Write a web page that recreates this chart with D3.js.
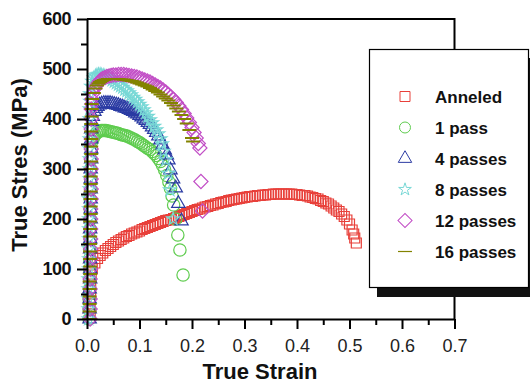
<!DOCTYPE html>
<html><head><meta charset="utf-8">
<script src="https://cdn.jsdelivr.net/npm/d3@7"></script>
<style>body{margin:0;background:#fff}svg{display:block}</style>
</head><body>
<svg id="c" width="530" height="384"></svg>
<script>
// ---- data: [true strain, true stress (MPa)] ----
const seriesNames = ["Anneled", "1 pass", "4 passes", "8 passes", "12 passes", "16 passes"];
const xTicks = [0.0, 0.1, 0.2, 0.3, 0.4, 0.5, 0.6, 0.7];
const yTicks = [0, 100, 200, 300, 400, 500, 600];

const annealed = [[0.006,10],[0.006,30],[0.007,50],[0.007,70],[0.008,88],
[0.010,100],[0.015,112],[0.020,121],[0.025,127],[0.030,132],[0.035,137],[0.040,141],[0.045,145],[0.050,149],[0.055,153],
[0.060,156],[0.065,159],[0.070,162],[0.075,165],[0.080,167],[0.085,170],[0.090,172],[0.095,174],[0.100,176],[0.105,179],
[0.110,181],[0.115,183],[0.120,185],[0.125,187],[0.130,189],[0.135,191],[0.140,193],[0.145,195],[0.150,197],[0.155,198],
[0.160,199],[0.165,201],[0.170,203],[0.175,205],[0.180,207],[0.185,209],[0.190,211],[0.195,213],[0.200,215],[0.205,217],
[0.210,219],[0.215,220],[0.220,222],[0.225,224],[0.230,225],[0.235,227],[0.240,228],[0.245,230],[0.250,231],[0.255,233],
[0.260,234],[0.265,235],[0.270,237],[0.275,238],[0.280,239],[0.285,240],[0.290,241],[0.295,242],[0.300,243],[0.305,244],
[0.310,245],[0.315,245],[0.320,246],[0.325,247],[0.330,247],[0.335,248],[0.340,248],[0.345,249],[0.350,249],[0.355,250],
[0.360,250],[0.365,250],[0.370,250],[0.375,250],[0.380,250],[0.385,250],[0.390,250],[0.395,249],[0.400,249],[0.405,248],
[0.410,247],[0.415,247],[0.420,246],[0.425,244],[0.430,243],[0.435,241],[0.440,240],[0.445,237],[0.450,235],[0.455,232],
[0.460,230],[0.465,226],[0.470,222],[0.475,218],[0.480,215],[0.485,210],[0.490,205],[0.495,198],[0.500,190],[0.505,178],
[0.508,170],[0.510,162],[0.513,152]];

const pass1 = [[0.004,0],[0.004,20],[0.004,40],[0.005,60],[0.005,80],[0.005,100],[0.005,120],[0.005,140],[0.006,160],[0.006,180],
[0.006,200],[0.006,220],[0.006,240],[0.007,260],[0.007,280],[0.007,300],[0.007,320],[0.008,340],[0.009,355],
[0.012,362],[0.015,368],[0.018,372],[0.021,374],[0.024,376],[0.027,377],[0.030,377],[0.033,377],[0.036,377],[0.040,376],
[0.044,375],[0.048,374],[0.052,373],[0.056,372],[0.060,371],[0.064,369],[0.068,368],[0.072,367],[0.076,366],[0.080,364],
[0.084,362],[0.088,360],[0.092,358],[0.096,355],[0.100,353],[0.104,350],[0.108,347],[0.112,344],[0.116,341],[0.120,339],
[0.124,335],[0.128,331],[0.132,327],[0.136,321],[0.140,315],[0.144,307],[0.148,298],[0.152,287],[0.156,274],[0.159,261],
[0.162,246],[0.165,228],[0.169,200],[0.173,168],[0.177,138],[0.183,88]];

const pass4 = [[0.005,0],[0.005,20],[0.005,40],[0.005,60],[0.006,80],[0.006,100],[0.006,120],[0.006,140],[0.006,160],[0.006,180],
[0.007,200],[0.007,220],[0.007,240],[0.007,260],[0.007,280],[0.007,300],[0.008,320],[0.008,340],[0.008,360],[0.008,380],[0.009,395],
[0.011,405],[0.014,415],[0.017,421],[0.020,425],[0.024,428],[0.028,430],[0.032,431],[0.036,431],[0.040,431],[0.044,431],
[0.048,430],[0.052,429],[0.056,428],[0.060,427],[0.064,425],[0.068,424],[0.072,422],[0.076,421],[0.080,419],[0.084,417],
[0.088,415],[0.092,412],[0.096,410],[0.100,407],[0.104,404],[0.108,400],[0.112,397],[0.116,393],[0.120,389],[0.124,384],
[0.128,379],[0.132,373],[0.136,366],[0.140,358],[0.144,348],[0.148,338],[0.152,328],[0.155,318],[0.159,298],[0.164,280],
[0.169,262],[0.174,231],[0.180,196]];

const pass8 = [[0.003,0],[0.003,20],[0.003,40],[0.003,60],[0.003,80],[0.004,100],[0.004,120],[0.004,140],[0.004,160],[0.004,180],
[0.004,200],[0.004,220],[0.004,240],[0.005,260],[0.005,280],[0.005,300],[0.005,320],[0.005,340],[0.005,360],[0.005,380],
[0.005,400],[0.005,420],[0.006,435],
[0.006,450],[0.008,465],[0.010,475],[0.013,482],[0.016,486],[0.019,488],[0.022,489],[0.025,489],[0.028,488],[0.031,487],
[0.034,486],[0.037,484],[0.040,483],[0.044,481],[0.048,478],[0.052,475],[0.056,472],[0.060,469],[0.064,466],[0.068,463],
[0.072,459],[0.076,456],[0.080,452],[0.084,448],[0.088,443],[0.092,439],[0.096,434],[0.100,429],[0.104,424],[0.108,418],
[0.112,412],[0.116,405],[0.120,398],[0.124,392],[0.128,385],[0.132,378],[0.136,370],[0.140,360],[0.143,350],[0.146,335],
[0.150,318],[0.155,291],[0.158,258],[0.164,200]];

const pass12 = [[0.006,0],[0.006,20],[0.006,40],[0.006,60],[0.006,80],[0.007,100],[0.007,120],[0.007,140],[0.007,160],[0.007,180],
[0.007,200],[0.007,220],[0.008,240],[0.008,260],[0.008,280],[0.008,300],[0.008,320],[0.008,340],[0.008,360],[0.008,380],
[0.008,400],[0.008,420],[0.009,430],
[0.009,440],[0.012,452],[0.015,461],[0.018,467],[0.021,472],[0.024,476],[0.027,479],[0.030,481],[0.034,483],[0.038,485],
[0.042,486],[0.046,487],[0.050,488],[0.055,488],[0.060,489],[0.065,489],[0.070,489],[0.075,488],[0.080,487],[0.085,486],
[0.090,485],[0.095,484],[0.100,482],[0.105,480],[0.110,478],[0.115,476],[0.120,474],[0.125,471],[0.130,468],[0.135,465],
[0.140,462],[0.145,458],[0.150,454],[0.155,449],[0.160,444],[0.165,439],[0.170,433],[0.175,426],[0.180,419],[0.185,411],
[0.190,402],[0.195,393],[0.200,383],[0.204,373],[0.208,362],[0.212,351],[0.215,342],[0.217,275],[0.220,216]];

const pass16 = [[0.005,0],[0.005,15],[0.005,30],[0.005,45],[0.005,60],[0.005,75],[0.006,90],[0.006,105],[0.006,120],[0.006,135],
[0.006,150],[0.006,165],[0.006,180],[0.006,195],[0.007,210],[0.007,225],[0.007,240],[0.007,255],[0.007,270],[0.007,285],
[0.007,300],[0.008,315],[0.008,330],[0.008,345],[0.008,360],[0.008,375],[0.008,390],[0.009,405],[0.009,420],[0.009,430],
[0.010,440],[0.013,452],[0.016,461],[0.019,467],[0.022,471],[0.025,474],[0.028,476],[0.032,478],[0.036,479],[0.040,480],
[0.045,480],[0.050,480],[0.055,480],[0.060,480],[0.065,479],[0.070,479],[0.075,478],[0.080,477],[0.085,476],[0.090,475],
[0.095,473],[0.100,471],[0.105,469],[0.110,467],[0.115,465],[0.120,462],[0.125,459],[0.130,456],[0.135,453],[0.140,449],
[0.145,445],[0.150,441],[0.155,437],[0.160,432],[0.165,427],[0.170,421],[0.175,415],[0.180,408],[0.185,400],[0.190,391],
[0.195,378],[0.200,362],[0.202,355]];

const seriesData = [annealed, pass1, pass4, pass8, pass12, pass16];
const colors = ["#e8403a", "#5fcc4f", "#2b3ba3", "#78d8d6", "#c24ec6", "#838300"];
const shapes = ["square", "circle", "triangle", "star", "diamond", "dash"];

// ---- layout ----
const svg = d3.select("#c");
const L = 87, R = 454.5, T = 19, B = 319;
const x = d3.scaleLinear().domain([0, 0.7]).range([L, R]);
const y = d3.scaleLinear().domain([0, 600]).range([B, T]);

function symbolPath(shape) {
  if (shape === "square") return d3.symbol(d3.symbolSquare, 100)();
  if (shape === "circle") return d3.symbol(d3.symbolCircle, 120)();
  if (shape === "triangle") return d3.symbol(d3.symbolTriangle, 78)();
  if (shape === "star") return d3.symbol(d3.symbolStar, 50)();
  if (shape === "diamond") return d3.symbol(d3.symbolSquare, 100)();
  return "M-7,0H7";
}
function symbolTransform(shape, px, py) {
  return `translate(${px},${py})` + (shape === "diamond" ? " rotate(45)" : "");
}

// data marks
seriesData.forEach((data, i) => {
  const shape = shapes[i];
  svg.append("g").selectAll("path").data(data).join("path")
    .attr("d", symbolPath(shape))
    .attr("transform", d => symbolTransform(shape, x(d[0]), y(d[1])))
    .attr("fill", "none")
    .attr("stroke", colors[i])
    .attr("stroke-width", shape === "dash" ? 2 : 1.2);
});

// frame top/right
svg.append("path").attr("d", `M${L},${T}H${R}V${B}`).attr("fill", "none").attr("stroke", "#000").attr("stroke-width", 2);

// axes
const xMinor = d3.range(0.05, 0.7, 0.1);
const yMinor = d3.range(50, 600, 100);
const gx = svg.append("g").attr("transform", `translate(0,${B})`);
gx.call(d3.axisBottom(x).tickValues(xMinor).tickSize(6).tickFormat(""));
gx.call(g => g.selectAll(".domain").remove());
const gx2 = svg.append("g").attr("transform", `translate(0,${B})`)
  .call(d3.axisBottom(x).tickValues(xTicks).tickSize(10).tickSizeOuter(0).tickPadding(10).tickFormat(d3.format(".1f")));
const gy = svg.append("g").attr("transform", `translate(${L},0)`);
gy.call(d3.axisLeft(y).tickValues(yMinor).tickSize(6).tickFormat(""));
gy.call(g => g.selectAll(".domain").remove());
const gy2 = svg.append("g").attr("transform", `translate(${L},0)`)
  .call(d3.axisLeft(y).tickValues(yTicks).tickSize(10).tickSizeOuter(0).tickPadding(6).tickFormat(d3.format("d")));
svg.selectAll(".tick line").attr("stroke", "#000").attr("stroke-width", 2);
svg.selectAll(".domain").attr("stroke", "#000").attr("stroke-width", 2);
gx2.selectAll("text").attr("font-family", "Liberation Sans, Arial, sans-serif").attr("font-size", 18).attr("fill", "#222");
gy2.selectAll("text").attr("font-family", "Liberation Sans, Arial, sans-serif").attr("font-size", 18).attr("font-weight", "bold").attr("fill", "#111").attr("letter-spacing", -0.5);

// titles
svg.append("text").attr("x", 260).attr("y", 379).attr("text-anchor", "middle")
  .attr("font-family", "Liberation Sans, Arial, sans-serif").attr("font-size", 22).attr("font-weight", "bold").attr("fill", "#111")
  .text("True Strain");
svg.append("text").attr("transform", "translate(27,165) rotate(-90)").attr("text-anchor", "middle")
  .attr("font-family", "Liberation Sans, Arial, sans-serif").attr("font-size", 22).attr("font-weight", "bold").attr("fill", "#111")
  .text("True Stres (MPa)");

// legend
const lg = svg.append("g");
lg.append("rect").attr("x", 377).attr("y", 58).attr("width", 160).attr("height", 239).attr("fill", "#111");
lg.append("rect").attr("x", 369.5).attr("y", 49.5).attr("width", 159).attr("height", 238).attr("fill", "#fff").attr("stroke", "#000").attr("stroke-width", 1.2);
seriesNames.forEach((name, i) => {
  const cy = 96.5 + i * 31;
  const shape = shapes[i];
  let p = symbolPath(shape);
  if (shape === "circle") p = d3.symbol(d3.symbolCircle, 95)();
  lg.append("path").attr("d", p).attr("transform", symbolTransform(shape, 405, cy))
    .attr("fill", "none").attr("stroke", colors[i]).attr("stroke-width", shape === "dash" ? 1.2 : 1);
  lg.append("text").attr("x", 435).attr("y", cy + 6)
    .attr("font-family", "Liberation Sans, Arial, sans-serif").attr("font-size", 17).attr("font-weight", "bold").attr("fill", "#111")
    .text(name);
});
</script>
</body></html>
